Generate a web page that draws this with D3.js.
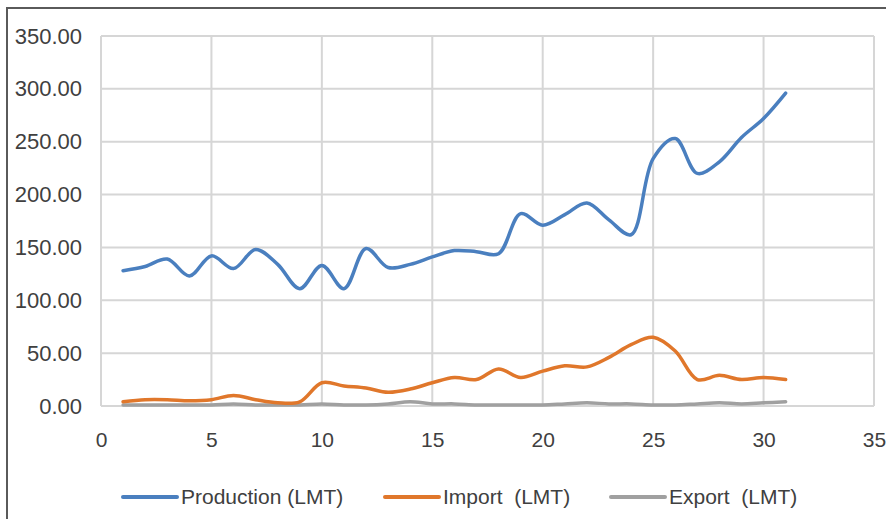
<!DOCTYPE html>
<html lang="en">
<head>
<meta charset="UTF-8">
<title>Production, import, export</title>
<script src="https://d3js.org/d3.v7.min.js"></script>
<style>
  body { margin: 0; background: #fff; }
  text { font-family: "Liberation Sans", Arial, sans-serif; fill: #404040; }
</style>
</head>
<body>
<div id="chart"></div>
<script>
// data (x = 1..31)
var years = d3.range(1, 32);
var production = [128, 132, 139, 123, 142, 130, 148, 134, 111, 133, 111, 149, 131, 134, 141,
                  147, 146, 144, 182, 171, 181, 192, 176, 162, 234, 253, 220, 231, 254, 272, 296];
var importVals = [4, 6, 6, 5, 6, 10, 6, 3, 4, 22, 19, 17, 13, 16, 22,
                  27, 25, 35, 27, 33, 38, 37, 46, 58, 65, 52, 25, 29, 25, 27, 25];
var exportVals = [1, 1, 1, 1, 1, 2, 1, 1, 1, 2, 1, 1, 2, 4, 2,
                  2, 1, 1, 1, 1, 2, 3, 2, 2, 1, 1, 2, 3, 2, 3, 4];
var xTicks = [0, 5, 10, 15, 20, 25, 30, 35];
var yTicks = [0, 50, 100, 150, 200, 250, 300, 350];
var seriesNames = ["Production (LMT)", "Import  (LMT)", "Export  (LMT)"];
var seriesColors = ["#4a7fbf", "#e0772b", "#a0a0a0"];

var W = 886, H = 519;
var svg = d3.select("#chart").append("svg")
    .attr("width", W)
    .attr("height", H);

// outer frame (only left and top edges are inside the picture)
svg.append("rect")
    .attr("x", 7).attr("y", 8)
    .attr("width", W + 20).attr("height", H + 20)
    .attr("fill", "none")
    .attr("stroke", "#5a5a5a")
    .attr("stroke-width", 2);

var x = d3.scaleLinear().domain([0, 35]).range([101, 874]);
var y = d3.scaleLinear().domain([0, 350]).range([406, 36]);

// gridlines
svg.append("g")
  .selectAll("line.h")
  .data(yTicks)
  .enter().append("line")
    .attr("x1", x(0)).attr("x2", x(35))
    .attr("y1", function(d) { return y(d); })
    .attr("y2", function(d) { return y(d); })
    .attr("stroke", "#d6d6d6")
    .attr("stroke-width", 2);

svg.append("g")
  .selectAll("line.v")
  .data(xTicks)
  .enter().append("line")
    .attr("y1", y(0)).attr("y2", y(350))
    .attr("x1", function(d) { return x(d); })
    .attr("x2", function(d) { return x(d); })
    .attr("stroke", "#d6d6d6")
    .attr("stroke-width", 2);

// y axis labels
var yAxis = d3.axisLeft(y).tickValues(yTicks).tickSize(0).tickPadding(19)
    .tickFormat(d3.format(".2f"));
svg.append("g")
    .attr("transform", "translate(" + x(0) + ",0)")
    .call(yAxis)
    .call(function(g) { g.select(".domain").remove(); })
    .selectAll("text")
      .style("font-size", "22px")
      .attr("fill", "#404040");

// x axis labels
var xAxis = d3.axisBottom(x).tickValues(xTicks).tickSize(0).tickPadding(26);
svg.append("g")
    .attr("transform", "translate(0," + y(0) + ")")
    .call(xAxis)
    .call(function(g) { g.select(".domain").remove(); })
    .selectAll("text")
      .style("font-size", "21px")
      .attr("fill", "#404040");

// the lines
var line = d3.line()
    .x(function(d) { return x(d[0]); })
    .y(function(d) { return y(d[1]); })
    .curve(d3.curveCatmullRom.alpha(0.5));

var allSeries = [exportVals, importVals, production];
var colorIdx = [2, 1, 0];
allSeries.forEach(function(vals, i) {
  svg.append("path")
      .datum(years.map(function(yr, j) { return [yr, vals[j]]; }))
      .attr("d", line)
      .attr("fill", "none")
      .attr("stroke", seriesColors[colorIdx[i]])
      .attr("stroke-width", 3.5)
      .attr("stroke-linecap", "round")
      .attr("stroke-linejoin", "round");
});

// legend
var legendX = [123, 385, 611];
var legend = svg.append("g")
  .selectAll("g")
  .data(seriesNames)
  .enter().append("g")
    .attr("transform", function(d, i) { return "translate(" + legendX[i] + ",497)"; });

legend.append("line")
    .attr("x1", 0).attr("x2", 54)
    .attr("stroke", function(d, i) { return seriesColors[i]; })
    .attr("stroke-width", 4)
    .attr("stroke-linecap", "round");

legend.append("text")
    .attr("x", 58)
    .attr("dy", "0.35em")
    .style("font-size", "21px")
    .style("white-space", "pre")
    .attr("xml:space", "preserve")
    .text(function(d) { return d; });
</script>
</body>
</html>
